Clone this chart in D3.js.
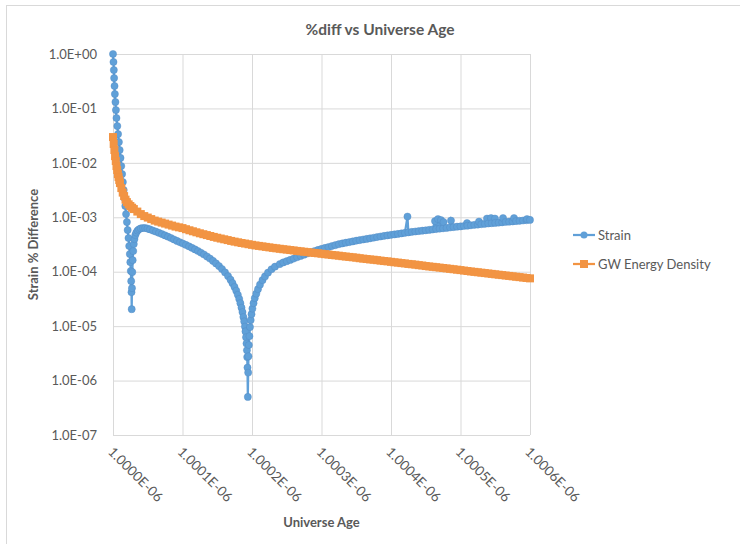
<!DOCTYPE html>
<html>
<head>
<meta charset="utf-8">
<script src="https://cdn.jsdelivr.net/npm/d3@7/dist/d3.min.js"></script>
<style>
  body { margin: 0; background: #fff; }
  text { font-family: Lato, "Open Sans", sans-serif; fill: #595959; }
</style>
</head>
<body>
<div id="chart"></div>
<script>
// ---- data ----
const xTicks = [1.0000e-6, 1.0001e-6, 1.0002e-6, 1.0003e-6, 1.0004e-6, 1.0005e-6, 1.0006e-6];
const xTickLabels = ["1.0000E-06", "1.0001E-06", "1.0002E-06", "1.0003E-06", "1.0004E-06", "1.0005E-06", "1.0006E-06"];
const yTicks = [1, 1e-1, 1e-2, 1e-3, 1e-4, 1e-5, 1e-6, 1e-7];
const yTickLabels = ["1.0E+00", "1.0E-01", "1.0E-02", "1.0E-03", "1.0E-04", "1.0E-05", "1.0E-06", "1.0E-07"];
const seriesNames = ["Strain", "GW Energy Density"];

// Strain % difference
const strainAge = [
  1.0000000e-6, 1.0000007e-6, 1.0000012e-6, 1.0000016e-6, 1.0000022e-6, 1.0000027e-6, 1.0000035e-6, 1.0000042e-6,
  1.0000050e-6, 1.0000062e-6, 1.0000073e-6, 1.0000085e-6, 1.0000096e-6, 1.0000108e-6, 1.0000119e-6, 1.0000131e-6,
  1.0000142e-6, 1.0000154e-6, 1.0000165e-6, 1.0000177e-6, 1.0000188e-6, 1.0000200e-6, 1.0000211e-6, 1.0000223e-6,
  1.0000233e-6, 1.0000242e-6, 1.0000249e-6, 1.0000256e-6, 1.0000262e-6, 1.0000266e-6, 1.0000269e-6,
  1.0000273e-6, 1.0000278e-6, 1.0000283e-6, 1.0000291e-6, 1.0000299e-6, 1.0000309e-6, 1.0000321e-6, 1.0000335e-6,
  1.0000353e-6, 1.0000374e-6, 1.0000400e-6, 1.0000432e-6, 1.0000463e-6, 1.0000496e-6,
  1.0000532e-6, 1.0000576e-6, 1.0000619e-6, 1.0000662e-6, 1.0000705e-6, 1.0000748e-6, 1.0000791e-6, 1.0000835e-6,
  1.0000878e-6, 1.0000921e-6, 1.0000964e-6, 1.0001007e-6, 1.0001050e-6, 1.0001094e-6, 1.0001137e-6, 1.0001180e-6,
  1.0001223e-6, 1.0001266e-6, 1.0001309e-6, 1.0001353e-6, 1.0001396e-6, 1.0001439e-6, 1.0001482e-6, 1.0001525e-6,
  1.0001568e-6, 1.0001612e-6, 1.0001655e-6, 1.0001691e-6, 1.0001719e-6, 1.0001748e-6, 1.0001773e-6, 1.0001796e-6,
  1.0001816e-6, 1.0001833e-6, 1.0001849e-6, 1.0001863e-6, 1.0001876e-6, 1.0001888e-6, 1.0001898e-6, 1.0001906e-6,
  1.0001914e-6, 1.0001921e-6, 1.0001927e-6, 1.0001931e-6, 1.0001935e-6, 1.0001940e-6,
  1.0001945e-6, 1.0001949e-6, 1.0001955e-6, 1.0001963e-6, 1.0001971e-6, 1.0001981e-6, 1.0001993e-6, 1.0002006e-6,
  1.0002022e-6, 1.0002040e-6, 1.0002062e-6, 1.0002086e-6, 1.0002115e-6, 1.0002151e-6, 1.0002187e-6, 1.0002230e-6,
  1.0002281e-6, 1.0002331e-6,
  1.000240e-6, 1.000245e-6, 1.000250e-6, 1.000255e-6, 1.000260e-6, 1.000265e-6, 1.000270e-6, 1.000275e-6,
  1.000280e-6, 1.000285e-6, 1.000290e-6, 1.000295e-6, 1.000300e-6, 1.000305e-6, 1.000310e-6, 1.000315e-6,
  1.000320e-6, 1.000325e-6, 1.000330e-6, 1.000335e-6, 1.000340e-6, 1.000345e-6, 1.000350e-6, 1.000355e-6,
  1.000360e-6, 1.000365e-6, 1.000370e-6, 1.000375e-6, 1.000380e-6, 1.000385e-6, 1.000390e-6, 1.000395e-6,
  1.000400e-6, 1.000405e-6, 1.000410e-6, 1.000415e-6, 1.000420e-6, 1.000425e-6, 1.000430e-6, 1.000435e-6,
  1.000440e-6, 1.000445e-6, 1.000450e-6, 1.000455e-6, 1.000460e-6, 1.000465e-6, 1.000470e-6, 1.000475e-6,
  1.000480e-6, 1.000485e-6, 1.000490e-6, 1.000495e-6, 1.000500e-6, 1.000505e-6, 1.000510e-6, 1.000515e-6,
  1.000520e-6, 1.000525e-6, 1.000530e-6, 1.000535e-6, 1.000540e-6, 1.000545e-6, 1.000550e-6, 1.000555e-6,
  1.000560e-6, 1.000565e-6, 1.000570e-6, 1.000575e-6, 1.000580e-6, 1.000585e-6, 1.000590e-6, 1.000595e-6,
  1.000600e-6,
  // stray points above the band
  1.0004237e-6, 1.0004633e-6, 1.0004676e-6, 1.0004719e-6, 1.0004755e-6, 1.0004863e-6, 1.0005094e-6,
  1.0005266e-6, 1.0005381e-6, 1.0005439e-6, 1.0005496e-6, 1.0005612e-6, 1.0005770e-6, 1.0005957e-6
];
const strainPct = [
  1.0, 0.713, 0.508, 0.362, 0.258, 0.184, 0.131, 0.0934,
  0.0666, 0.0475, 0.0338, 0.0241, 0.0172, 0.0123, 8.73e-3, 6.22e-3,
  4.44e-3, 3.16e-3, 2.25e-3, 1.61e-3, 1.145e-3, 8.16e-4, 5.82e-4, 4.15e-4,
  2.96e-4, 2.11e-4, 1.50e-4, 1.03e-4, 6.71e-5, 4.21e-5, 2.05e-5,
  4.99e-5, 9.83e-5, 1.63e-4, 2.39e-4, 3.22e-4, 3.97e-4, 4.71e-4, 5.23e-4,
  5.70e-4, 6.02e-4, 6.25e-4, 6.35e-4, 6.35e-4, 6.20e-4,
  5.99e-4, 5.70e-4, 5.44e-4, 5.17e-4, 4.91e-4, 4.65e-4, 4.40e-4, 4.15e-4,
  3.91e-4, 3.68e-4, 3.47e-4, 3.29e-4, 3.10e-4, 2.92e-4, 2.74e-4, 2.57e-4,
  2.40e-4, 2.23e-4, 2.07e-4, 1.90e-4, 1.74e-4, 1.58e-4, 1.42e-4, 1.27e-4,
  1.12e-4, 9.7e-5, 8.30e-5, 7.13e-5, 6.17e-5, 5.25e-5, 4.48e-5, 3.77e-5,
  3.16e-5, 2.64e-5, 2.18e-5, 1.81e-5, 1.47e-5, 1.22e-5, 9.8e-6, 8.0e-6,
  6.25e-6, 4.8e-6, 3.6e-6, 2.7e-6, 1.73e-6, 5.0e-7,
  1.4e-6, 2.8e-6, 4.5e-6, 6.55e-6, 9.6e-6, 1.29e-5, 1.66e-5, 2.10e-5,
  2.64e-5, 3.27e-5, 3.95e-5, 4.78e-5, 5.79e-5, 7.00e-5, 8.19e-5, 9.62e-5,
  1.11e-4, 1.24e-4,
  1.38e-4, 1.48e-4, 1.56e-4, 1.65e-4, 1.74e-4, 1.85e-4, 1.95e-4, 2.06e-4,
  2.17e-4, 2.28e-4, 2.39e-4, 2.51e-4, 2.62e-4, 2.73e-4, 2.84e-4, 2.96e-4,
  3.08e-4, 3.20e-4, 3.31e-4, 3.41e-4, 3.50e-4, 3.60e-4, 3.71e-4, 3.81e-4,
  3.91e-4, 4.00e-4, 4.11e-4, 4.21e-4, 4.33e-4, 4.44e-4, 4.55e-4, 4.65e-4,
  4.75e-4, 4.85e-4, 4.95e-4, 5.06e-4, 5.17e-4, 5.28e-4, 5.39e-4, 5.48e-4,
  5.58e-4, 5.67e-4, 5.77e-4, 5.87e-4, 5.97e-4, 6.07e-4, 6.17e-4, 6.28e-4,
  6.38e-4, 6.49e-4, 6.61e-4, 6.72e-4, 6.80e-4, 6.92e-4, 7.01e-4, 7.13e-4,
  7.25e-4, 7.34e-4, 7.47e-4, 7.57e-4, 7.69e-4, 7.79e-4, 7.88e-4, 7.97e-4,
  8.09e-4, 8.20e-4, 8.30e-4, 8.39e-4, 8.51e-4, 8.62e-4, 8.73e-4, 8.84e-4,
  8.96e-4,
  1.03e-3, 8.51e-4, 9.27e-4, 8.88e-4, 8.16e-4, 8.70e-4, 7.82e-4,
  8.34e-4, 9.47e-4, 9.67e-4, 9.47e-4, 9.67e-4, 9.67e-4, 9.27e-4
];

// GW energy density % difference
const gwAge = [
  1.0000000e-6, 1.0000010e-6, 1.0000020e-6, 1.0000030e-6, 1.0000040e-6, 1.0000050e-6, 1.0000060e-6, 1.0000070e-6,
  1.0000080e-6, 1.0000090e-6, 1.0000100e-6, 1.0000120e-6, 1.0000140e-6, 1.0000160e-6, 1.0000180e-6,
  1.0000200e-6, 1.0000225e-6, 1.0000250e-6, 1.0000275e-6, 1.0000300e-6, 1.0000350e-6, 1.0000400e-6, 1.0000450e-6,
  1.0000500e-6, 1.0000550e-6, 1.0000600e-6, 1.0000650e-6, 1.0000700e-6, 1.0000750e-6, 1.0000800e-6, 1.0000850e-6,
  1.0000900e-6, 1.0000950e-6,
  1.000100e-6, 1.000105e-6, 1.000110e-6, 1.000115e-6, 1.000120e-6, 1.000125e-6, 1.000130e-6, 1.000135e-6,
  1.000140e-6, 1.000145e-6, 1.000150e-6, 1.000155e-6, 1.000160e-6, 1.000165e-6, 1.000170e-6, 1.000175e-6,
  1.000180e-6, 1.000185e-6, 1.000190e-6, 1.000195e-6, 1.000200e-6, 1.000205e-6, 1.000210e-6, 1.000215e-6,
  1.000220e-6, 1.000225e-6, 1.000230e-6, 1.000235e-6, 1.000240e-6, 1.000245e-6, 1.000250e-6, 1.000255e-6,
  1.000260e-6, 1.000265e-6, 1.000270e-6, 1.000275e-6, 1.000280e-6, 1.000285e-6, 1.000290e-6, 1.000295e-6,
  1.000300e-6, 1.000305e-6, 1.000310e-6, 1.000315e-6, 1.000320e-6, 1.000325e-6, 1.000330e-6, 1.000335e-6,
  1.000340e-6, 1.000345e-6, 1.000350e-6, 1.000355e-6, 1.000360e-6, 1.000365e-6, 1.000370e-6, 1.000375e-6,
  1.000380e-6, 1.000385e-6, 1.000390e-6, 1.000395e-6, 1.000400e-6, 1.000405e-6, 1.000410e-6, 1.000415e-6,
  1.000420e-6, 1.000425e-6, 1.000430e-6, 1.000435e-6, 1.000440e-6, 1.000445e-6, 1.000450e-6, 1.000455e-6,
  1.000460e-6, 1.000465e-6, 1.000470e-6, 1.000475e-6, 1.000480e-6, 1.000485e-6, 1.000490e-6, 1.000495e-6,
  1.000500e-6, 1.000505e-6, 1.000510e-6, 1.000515e-6, 1.000520e-6, 1.000525e-6, 1.000530e-6, 1.000535e-6,
  1.000540e-6, 1.000545e-6, 1.000550e-6, 1.000555e-6, 1.000560e-6, 1.000565e-6, 1.000570e-6, 1.000575e-6,
  1.000580e-6, 1.000585e-6, 1.000590e-6, 1.000595e-6, 1.000600e-6
];
const gwPct = [
  0.0298, 0.0222, 0.0172, 0.0133, 0.0108, 8.73e-3, 7.37e-3, 6.22e-3,
  5.48e-3, 4.83e-3, 4.25e-3, 3.44e-3, 2.84e-3, 2.45e-3, 2.11e-3,
  1.90e-3, 1.73e-3, 1.61e-3, 1.50e-3, 1.415e-3, 1.273e-3, 1.145e-3, 1.052e-3,
  9.88e-4, 9.27e-4, 8.70e-4, 8.33e-4, 7.99e-4, 7.66e-4, 7.34e-4, 7.04e-4,
  6.75e-4, 6.54e-4,
  6.33e-4, 6.04e-4, 5.77e-4, 5.53e-4, 5.30e-4, 5.08e-4, 4.89e-4, 4.71e-4,
  4.53e-4, 4.36e-4, 4.21e-4, 4.07e-4, 3.94e-4, 3.81e-4, 3.68e-4, 3.57e-4,
  3.47e-4, 3.37e-4, 3.29e-4, 3.20e-4, 3.12e-4, 3.04e-4, 2.98e-4, 2.92e-4,
  2.86e-4, 2.80e-4, 2.74e-4, 2.69e-4, 2.64e-4, 2.59e-4, 2.55e-4, 2.50e-4,
  2.46e-4, 2.41e-4, 2.37e-4, 2.33e-4, 2.29e-4, 2.25e-4, 2.21e-4, 2.18e-4,
  2.14e-4, 2.10e-4, 2.07e-4, 2.03e-4, 2.00e-4, 1.97e-4, 1.93e-4, 1.90e-4,
  1.87e-4, 1.84e-4, 1.81e-4, 1.77e-4, 1.74e-4, 1.71e-4, 1.68e-4, 1.66e-4,
  1.63e-4, 1.60e-4, 1.57e-4, 1.55e-4, 1.52e-4, 1.49e-4, 1.47e-4, 1.44e-4,
  1.42e-4, 1.39e-4, 1.37e-4, 1.35e-4, 1.32e-4, 1.30e-4, 1.27e-4, 1.25e-4,
  1.23e-4, 1.21e-4, 1.19e-4, 1.17e-4, 1.15e-4, 1.13e-4, 1.11e-4, 1.09e-4,
  1.07e-4, 1.05e-4, 1.03e-4, 1.01e-4, 9.94e-5, 9.77e-5, 9.61e-5, 9.44e-5,
  9.28e-5, 9.12e-5, 8.96e-5, 8.81e-5, 8.66e-5, 8.51e-5, 8.37e-5, 8.23e-5,
  8.09e-5, 7.95e-5, 7.81e-5, 7.68e-5, 7.55e-5
];

// ---- layout ----
const width = 740;
const height = 544;
const margin = {left: 113, right: 210, top: 54, bottom: 109};
const vis_width = width - margin.left - margin.right;
const vis_height = height - margin.top - margin.bottom;

const BLUE = "#60A0D8";
const ORANGE = "#F29443";

const svg = d3.select("#chart")
  .append("svg")
    .attr("width", width)
    .attr("height", height);

// chart area border (runs off the right and bottom of the picture)
svg.append("rect")
  .attr("x", 6.5).attr("y", 5.5)
  .attr("width", 800).attr("height", 600)
  .attr("fill", "#fff")
  .attr("stroke", "#D9D9D9");

const X = d3.scaleLinear()
  .domain([xTicks[0], xTicks[xTicks.length - 1]])
  .range([margin.left, margin.left + vis_width]);

const Y = d3.scaleLog()
  .domain([1e-7, 1])
  .range([margin.top + vis_height, margin.top]);

// y axis + horizontal grid
const yAxis = svg.append("g")
  .attr("transform", "translate(" + margin.left + ",0)")
  .call(d3.axisLeft(Y)
    .tickValues(yTicks)
    .tickSize(-vis_width)
    .tickPadding(16)
    .tickFormat((d, i) => yTickLabels[i]));
yAxis.select(".domain").remove();
yAxis.selectAll("line").attr("stroke", "#D9D9D9").attr("stroke-width", 1);
yAxis.selectAll("text").style("font-size", "13px").style("fill", "#595959");

// x axis + vertical grid
const xAxis = svg.append("g")
  .attr("transform", "translate(0," + (margin.top + vis_height) + ")")
  .call(d3.axisBottom(X)
    .tickValues(xTicks)
    .tickSize(-vis_height)
    .tickFormat((d, i) => xTickLabels[i]));
xAxis.select(".domain").remove();
xAxis.selectAll("line").attr("stroke", "#D9D9D9").attr("stroke-width", 1);
xAxis.selectAll("text")
  .style("font-size", "13.5px").style("fill", "#595959")
  .attr("text-anchor", "start")
  .attr("dominant-baseline", "central")
  .attr("dy", null)
  .attr("x", 8)
  .attr("y", 0)
  .attr("transform", "rotate(45) translate(0,12)");

// series
const strainPts = d3.zip(strainAge, strainPct).sort((a, b) => a[0] - b[0]);
const gwPts = d3.zip(gwAge, gwPct);

const line = d3.line()
  .x(d => X(d[0]))
  .y(d => Y(d[1]));

svg.append("path")
  .datum(strainPts)
  .attr("fill", "none")
  .attr("stroke", BLUE)
  .attr("stroke-width", 2.25)
  .attr("d", line);

svg.append("g").selectAll("circle")
  .data(strainPts)
  .enter().append("circle")
    .attr("cx", d => X(d[0]))
    .attr("cy", d => Y(d[1]))
    .attr("r", 3.6)
    .attr("fill", BLUE)
    .attr("stroke", "#5089C2")
    .attr("stroke-width", 0.4);

svg.append("path")
  .datum(gwPts)
  .attr("fill", "none")
  .attr("stroke", ORANGE)
  .attr("stroke-width", 2.25)
  .attr("d", line);

svg.append("g").selectAll("rect")
  .data(gwPts)
  .enter().append("rect")
    .attr("x", d => X(d[0]) - 4)
    .attr("y", d => Y(d[1]) - 4)
    .attr("width", 8)
    .attr("height", 8)
    .attr("fill", ORANGE);

// titles
svg.append("text")
  .attr("x", 380).attr("y", 35)
  .attr("text-anchor", "middle")
  .style("font-size", "15.5px").style("font-weight", "bold")
  .text("%diff vs Universe Age");

svg.append("text")
  .attr("x", margin.left + vis_width / 2).attr("y", 527)
  .attr("text-anchor", "middle")
  .style("font-size", "13px").style("font-weight", "bold")
  .text("Universe Age");

svg.append("text")
  .attr("transform", "translate(38," + (margin.top + vis_height / 2) + ") rotate(-90)")
  .attr("text-anchor", "middle")
  .style("font-size", "13px").style("font-weight", "bold")
  .text("Strain % Difference");

// legend
const legend = svg.append("g").attr("transform", "translate(573,235)");
seriesNames.forEach((name, i) => {
  const g = legend.append("g").attr("transform", "translate(0," + (i * 29) + ")");
  const col = i === 0 ? BLUE : ORANGE;
  g.append("line").attr("x1", 0).attr("x2", 22).attr("y1", 0).attr("y2", 0)
    .attr("stroke", col).attr("stroke-width", 2.25);
  if (i === 0) {
    g.append("circle").attr("cx", 11).attr("cy", 0).attr("r", 3.5).attr("fill", col);
  } else {
    g.append("rect").attr("x", 7).attr("y", -4).attr("width", 8).attr("height", 8).attr("fill", col);
  }
  g.append("text").attr("x", 25).attr("y", 0)
    .attr("dominant-baseline", "central")
    .style("font-size", "13px")
    .text(name);
});
</script>
</body>
</html>
